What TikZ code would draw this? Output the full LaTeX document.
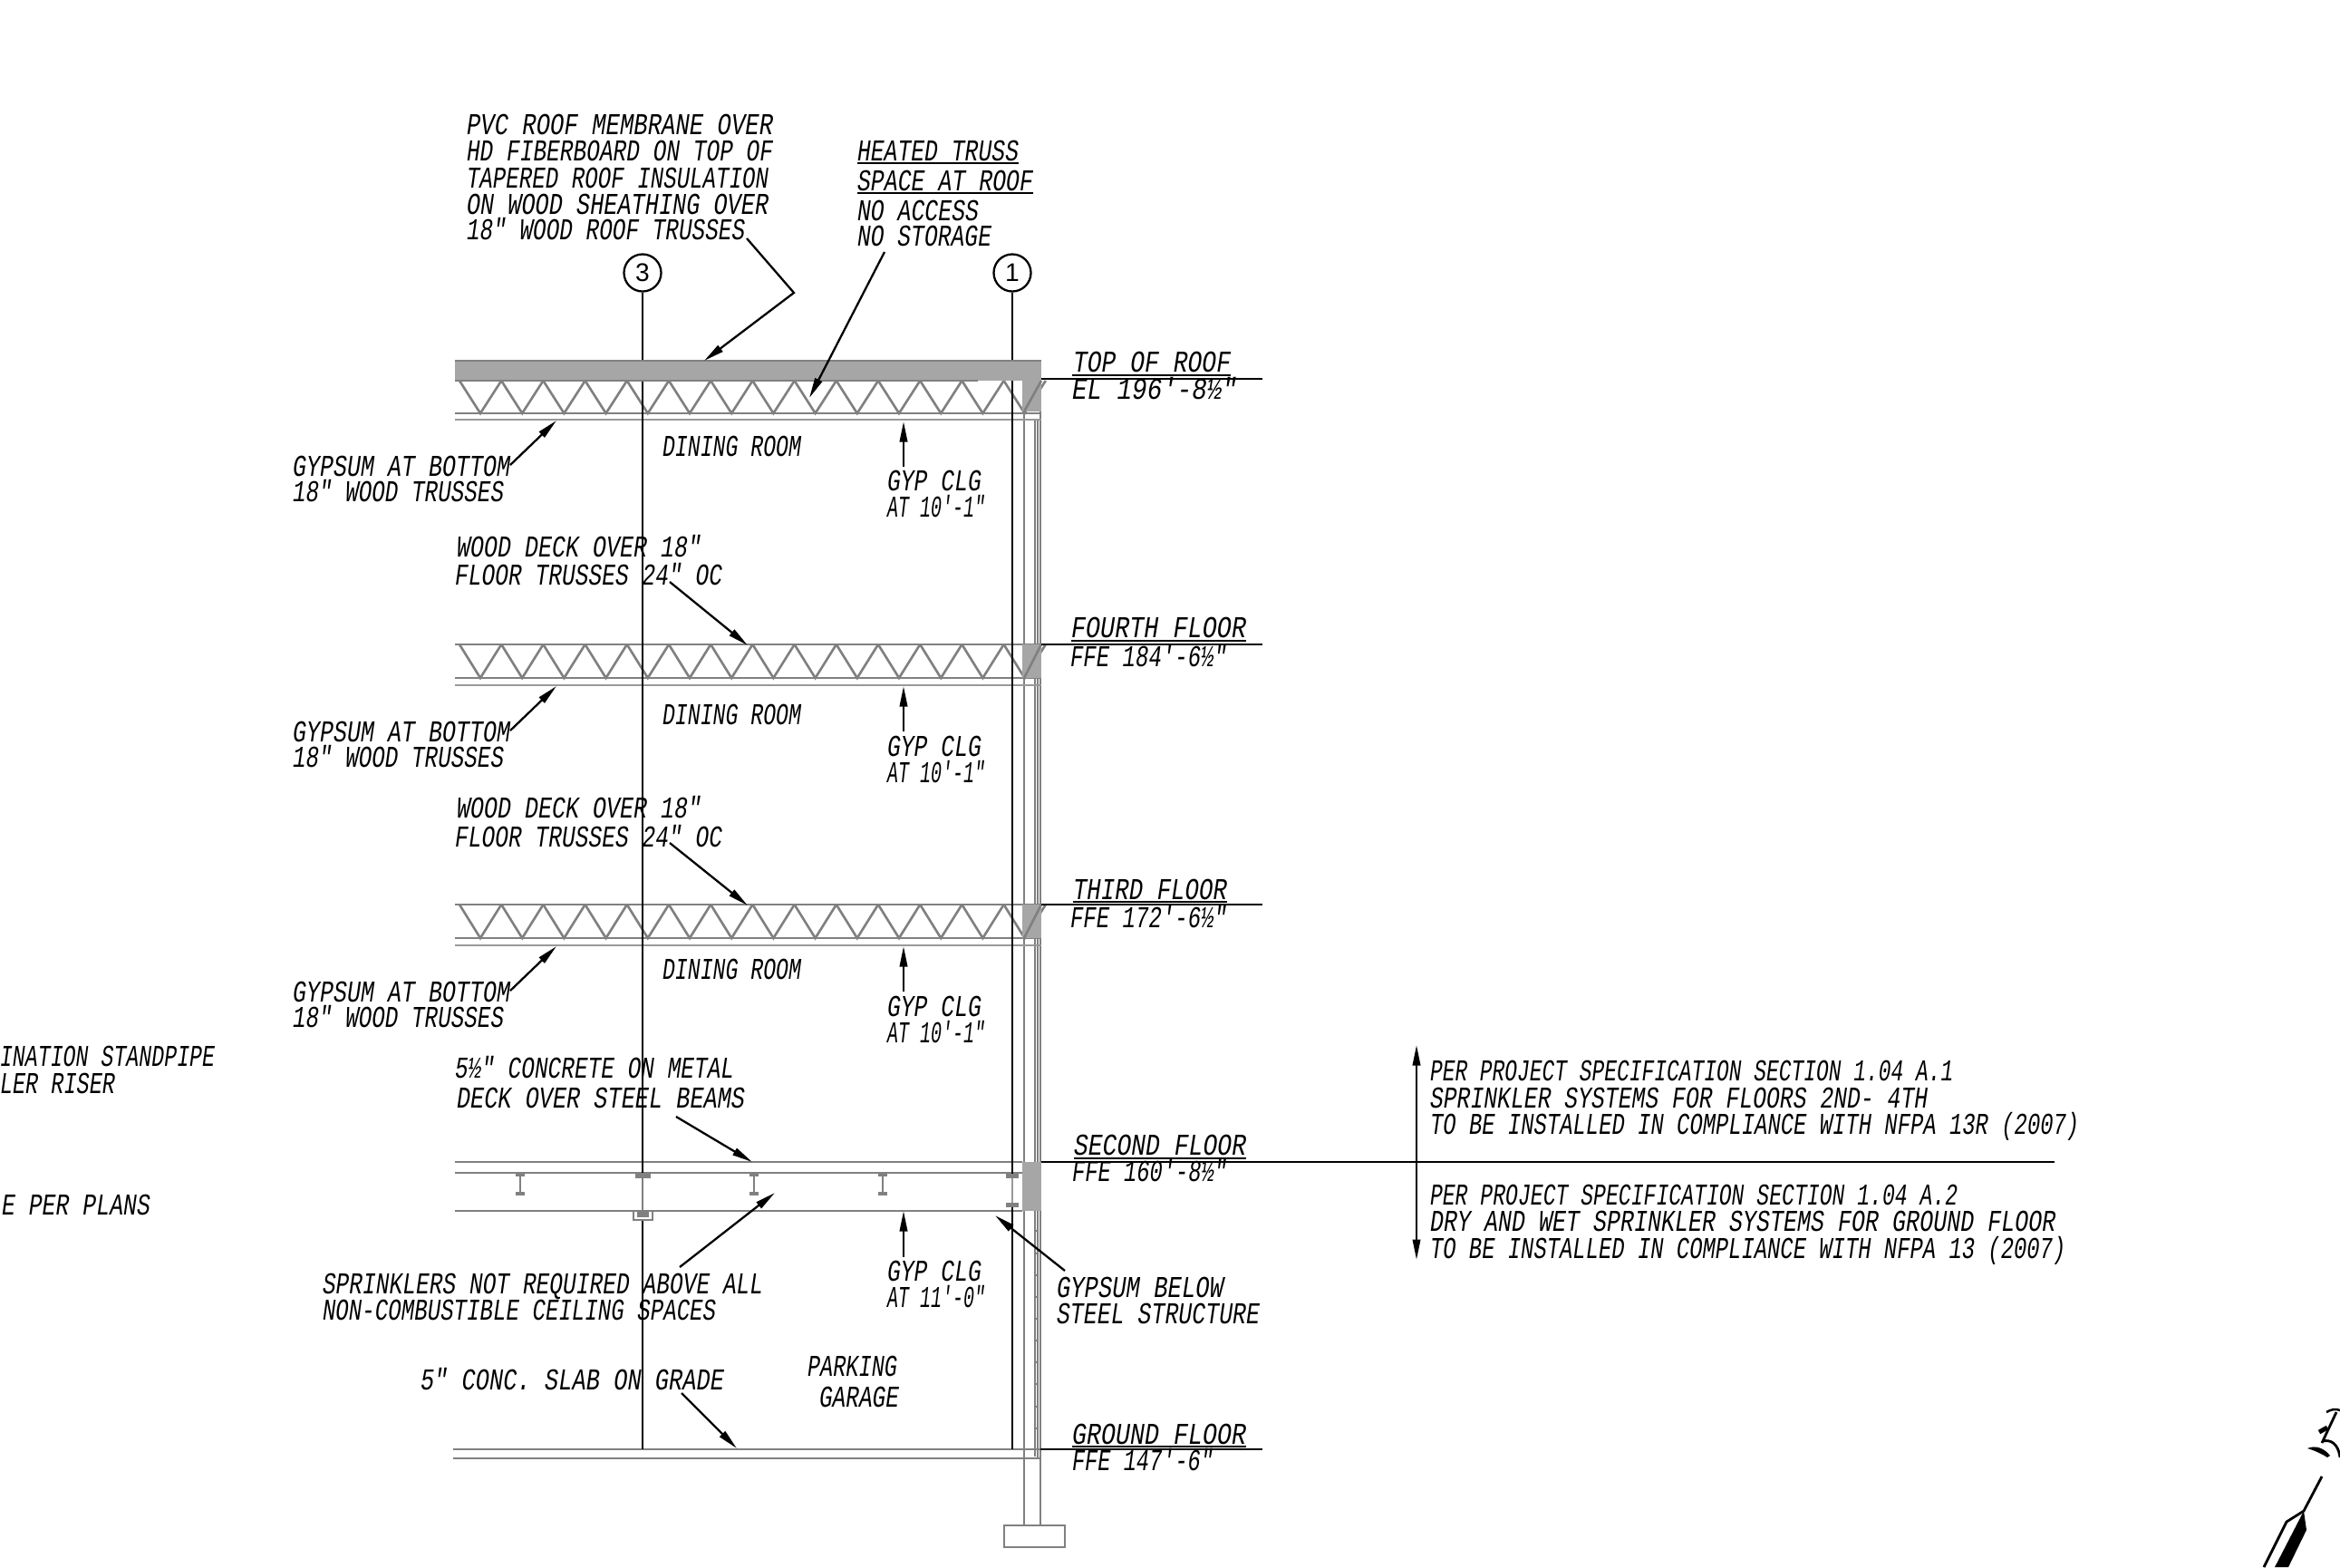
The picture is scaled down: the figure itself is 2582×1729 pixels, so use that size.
\documentclass[tikz,border=0pt]{standalone}
\usepackage{graphicx}
\usepackage{fontspec}
\usetikzlibrary{arrows.meta}
\newfontfamily\cadfont[ItalicFont={Liberation Mono Italic}]{Liberation Mono}
\newfontfamily\circfont{Liberation Sans}
\newsavebox\cadbox
\newcommand\fitw[2]{\sbox\cadbox{#2}\scalebox{\fpeval{(#1)*0.284528pt/\the\wd\cadbox}}[1]{\usebox\cadbox}}
\newcommand\T[5]{\node[cadtext] (#1) at (#2,#3) {\fitw{#4-#2}{#5}};}
\newcommand\leaderline[4]{\coordinate (#1a) at (#2); \coordinate (#1b) at (#3); \draw[leader] (#1a) -- (#1b);}
\tikzset{
  cadtext/.style={anchor=base west,inner sep=0pt,outer sep=0pt,font=\cadfont\itshape\fontsize{9.5pt}{11pt}\selectfont},
  leader/.style={black,line width=0.65pt,-{Triangle[length=6.4pt,width=2.4pt]}},
  level/.style={black,line width=0.7pt},
  grid/.style={black,line width=0.7pt},
  gridmark/.style={draw,black,circle,line width=0.65pt,minimum size=0.41cm,inner sep=0pt,font=\circfont\fontsize{8pt}{9pt}\selectfont},
  struct/.style={draw=structgray,line width=0.7pt},
  fine/.style={draw=lightgray2,line width=0.65pt},
  chord/.style={draw=structgray,line width=0.75pt},
}
\definecolor{structgray}{HTML}{808080}
\definecolor{lightgray2}{HTML}{999999}
\definecolor{fillgray}{HTML}{A6A6A6}
\newcommand\truss[2]{%
  \foreach \k in {0,...,13} {
    \pgfmathsetmacro\xt{507+46.2*\k}
    \pgfmathsetmacro\xb{530+46.2*\k}
    \pgfmathsetmacro\xn{553.2+46.2*\k}
    \draw[chord] (\xt,#1) -- (\xb,#2) -- (\xn,#1);
  }
}
\newcommand\ibeam[1]{%
  \fill[structgray] (#1-5,1295) rectangle (#1+5,1298);
  \fill[structgray] (#1-5,1315) rectangle (#1+5,1319);
  \draw[draw=structgray,line width=0.6pt] (#1,1298) -- (#1,1315);
}
\begin{document}
\begin{tikzpicture}[x=0.01cm,y=-0.01cm]
\useasboundingbox (0,0) rectangle (2582,1729);
% wall
\draw[chord] (1130,456) -- (1130,1683);
\draw[struct,line width=0.55pt] (1142,463) -- (1142,1607);
\draw[struct,line width=0.6pt] (1145,463) -- (1145,1610);
\draw[struct,line width=0.65pt] (1148,420) -- (1148,1683);
\foreach \yy in {1358,1383,1407,1431,1455,1479,1503,1527,1552,1576}
  \draw[struct,line width=0.55pt] (1142,\yy) -- (1145,\yy);
\draw[struct] (1108,1683) rectangle (1175,1707);
% trusses and floors
\truss{420}{456}
\draw[chord] (502,456) -- (1149,456);
\draw[fine] (502,463) -- (1149,463);
\truss{711}{748}
\draw[chord] (502,711) -- (1149,711);
\draw[chord] (502,748) -- (1149,748);
\draw[fine] (502,756) -- (1149,756);
\truss{998}{1035}
\draw[chord] (502,998) -- (1149,998);
\draw[chord] (502,1035) -- (1149,1035);
\draw[fine] (502,1043) -- (1149,1043);
\draw[struct] (502,1282) -- (1128,1282);
\draw[struct] (502,1294) -- (1128,1294);
\draw[struct] (502,1336) -- (1128,1336);
\draw[struct] (500,1599) -- (1148,1599);
\draw[struct] (500,1609) -- (1148,1609);
% grid
\node[gridmark] (g3) at (709,301) {3};
\node[gridmark] (g1) at (1117,301) {1};
\coordinate (g3e) at (709,1599); \coordinate (g1e) at (1117,1599);
\draw[grid] (g3) -- (g3e);
\draw[grid] (g1) -- (g1e);
% roof and wall blocks over the grid
\fill[fillgray] (502,398) rectangle (1149,420);
\draw[draw=structgray,line width=0.4pt] (502,398) -- (1149,398);
\draw[draw=structgray,line width=0.5pt] (502,420) -- (1079,420);
\fill[fillgray] (1128,420) rectangle (1149,454);
\draw[chord] (1130,454) -- (1149,420);
\fill[fillgray] (1128,711) rectangle (1149,748);
\draw[chord] (1130,748) -- (1149,711);
\fill[fillgray] (1128,998) rectangle (1149,1035);
\draw[chord] (1130,1035) -- (1149,998);
\fill[fillgray] (1128,1282) rectangle (1149,1336);
% steel at second floor
\ibeam{574}\ibeam{832}\ibeam{974}
\fill[white] (705,1300) rectangle (713,1336);
\draw[draw=structgray,line width=0.8pt] (709,1300) -- (709,1336);
\fill[structgray] (701,1294) rectangle (717.5,1300);
\fill[white] (699,1336) rectangle (720,1346);
\draw[draw=structgray,line width=0.6pt] (699,1336) rectangle (720,1346);
\fill[structgray] (703,1337) rectangle (716,1343);
\fill[white] (1114,1300) rectangle (1120,1327);
\draw[draw=lightgray2,line width=0.5pt] (1117,1300) -- (1117,1327);
\fill[structgray] (1110,1295) rectangle (1124,1300);
\fill[structgray] (1110,1327) rectangle (1124,1332);
% levels
\coordinate (l1a) at (1149,418); \coordinate (l1b) at (1393,418); \draw[level] (l1a) -- (l1b);
\coordinate (l2a) at (1149,711); \coordinate (l2b) at (1393,711); \draw[level] (l2a) -- (l2b);
\coordinate (l3a) at (1149,998); \coordinate (l3b) at (1393,998); \draw[level] (l3a) -- (l3b);
\coordinate (l4a) at (1149,1282); \coordinate (l4b) at (2267,1282); \draw[level] (l4a) -- (l4b);
\coordinate (l5a) at (1148,1599); \coordinate (l5b) at (1393,1599); \draw[level] (l5a) -- (l5b);
% underlines
\foreach \xa/\xb/\yy in {946/1124/180,946/1140/213,1183/1358/414,1182/1375/707,1184/1354/995,1185/1375/1278,1183/1375/1596}
  \draw[level] (\xa,\yy) -- (\xb,\yy);
% leaders
\coordinate (pa) at (824,263); \coordinate (pb) at (876,323); \coordinate (pc) at (777,398);
\draw[leader] (pa) -- (pb) -- (pc);
\leaderline{h}{976,278}{893,439}{}
\leaderline{ga}{563,513}{614,464}{}
\leaderline{gb}{563,806}{614,757}{}
\leaderline{gc}{563,1093}{614,1044}{}
\leaderline{ca}{997,515}{997,465}{}
\leaderline{cb}{997,807}{997,757}{}
\leaderline{cc}{997,1094}{997,1044}{}
\leaderline{cd}{997,1387}{997,1336}{}
\leaderline{wa}{739,642}{825,712}{}
\leaderline{wb}{739,930}{825,999}{}
\leaderline{cm}{746,1232}{830,1282}{}
\leaderline{sp}{750,1398}{855,1316}{}
\leaderline{gy}{1175,1402}{1098,1341}{}
\leaderline{sl}{752,1537}{813,1598}{}
\leaderline{up}{1563,1282}{1563,1153}{}
\leaderline{dn}{1563,1282}{1563,1390}{}
% text: top
\T{t1}{515}{148}{853}{PVC ROOF MEMBRANE OVER}
\T{t2}{515}{177}{853}{HD FIBERBOARD ON TOP OF}
\T{t3}{515}{207}{848}{TAPERED ROOF INSULATION}
\T{t4}{515}{236}{848}{ON WOOD SHEATHING OVER}
\T{t5}{515}{264}{822}{18" WOOD ROOF TRUSSES}
\T{h1}{946}{177}{1124}{HEATED TRUSS}
\T{h2}{946}{210}{1140}{SPACE AT ROOF}
\T{h3}{946}{243}{1080}{NO ACCESS}
\T{h4}{946}{271}{1094}{NO STORAGE}
% gypsum notes
\T{ga1}{323}{525}{563}{GYPSUM AT BOTTOM}
\T{ga2}{323}{553}{556}{18" WOOD TRUSSES}
\T{gb1}{323}{818}{563}{GYPSUM AT BOTTOM}
\T{gb2}{323}{846}{556}{18" WOOD TRUSSES}
\T{gc1}{323}{1105}{563}{GYPSUM AT BOTTOM}
\T{gc2}{323}{1133}{556}{18" WOOD TRUSSES}
% rooms
\T{d1}{731}{503}{884}{DINING ROOM}
\T{d2}{731}{799}{884}{DINING ROOM}
\T{d3}{731}{1080}{884}{DINING ROOM}
% ceilings
\T{c1}{979}{541}{1083}{GYP CLG}
\T{c2}{979}{570}{1087}{AT 10'-1"}
\T{c3}{979}{834}{1083}{GYP CLG}
\T{c4}{979}{863}{1087}{AT 10'-1"}
\T{c5}{979}{1121}{1083}{GYP CLG}
\T{c6}{979}{1150}{1087}{AT 10'-1"}
\T{c7}{979}{1413}{1083}{GYP CLG}
\T{c8}{979}{1442}{1087}{AT 11'-0"}
% level labels
\T{e1}{1184}{410}{1358}{TOP OF ROOF}
\T{e2}{1183}{440}{1365}{EL 196'-8½"}
\T{e3}{1182}{703}{1375}{FOURTH FLOOR}
\T{e4}{1181}{735}{1354}{FFE 184'-6½"}
\T{e5}{1184}{992}{1354}{THIRD FLOOR}
\T{e6}{1181}{1023}{1354}{FFE 172'-6½"}
\T{e7}{1185}{1274}{1375}{SECOND FLOOR}
\T{e8}{1183}{1303}{1354}{FFE 160'-8½"}
\T{e9}{1183}{1593}{1375}{GROUND FLOOR}
\T{e10}{1183}{1622}{1339}{FFE 147'-6"}
% deck notes
\T{w1}{504}{614}{774}{WOOD DECK OVER 18"}
\T{w2}{502}{645}{797}{FLOOR TRUSSES 24" OC}
\T{w3}{504}{902}{774}{WOOD DECK OVER 18"}
\T{w4}{502}{934}{797}{FLOOR TRUSSES 24" OC}
\T{w5}{502}{1189}{810}{5½" CONCRETE ON METAL}
\T{w6}{504}{1222}{822}{DECK OVER STEEL BEAMS}
\T{s1}{356}{1427}{842}{SPRINKLERS NOT REQUIRED ABOVE ALL}
\T{s2}{356}{1456}{790}{NON-COMBUSTIBLE CEILING SPACES}
\T{s3}{464}{1533}{799}{5" CONC. SLAB ON GRADE}
\T{s4}{891}{1518}{990}{PARKING}
\T{s5}{904}{1552}{992}{GARAGE}
\T{s6}{1166}{1431}{1350}{GYPSUM BELOW}
\T{s7}{1166}{1460}{1390}{STEEL STRUCTURE}
% left cropped
\T{x1}{0}{1176}{237}{INATION STANDPIPE}
\T{x2}{0}{1206}{127}{LER RISER}
\T{x3}{2}{1340}{166}{E PER PLANS}
% specs
\T{r1}{1578}{1192}{2155}{PER PROJECT SPECIFICATION SECTION 1.04 A.1}
\T{r2}{1578}{1222}{2127}{SPRINKLER SYSTEMS FOR FLOORS 2ND- 4TH}
\T{r3}{1578}{1251}{2294}{TO BE INSTALLED IN COMPLIANCE WITH NFPA 13R (2007)}
\T{r4}{1578}{1329}{2160}{PER PROJECT SPECIFICATION SECTION 1.04 A.2}
\T{r5}{1578}{1358}{2268}{DRY AND WET SPRINKLER SYSTEMS FOR GROUND FLOOR}
\T{r6}{1578}{1388}{2279}{TO BE INSTALLED IN COMPLIANCE WITH NFPA 13 (2007)}
% corner figure
\draw[black,line width=0.8pt] (2562,1629) -- (2542,1667) -- (2523,1679) -- (2498,1729);
\fill[black] (2542,1667) -- (2545,1688) -- (2525,1729) -- (2510,1729) -- cycle;
\draw[black,line width=0.8pt] (2578,1558) -- (2562,1592);
\draw[black,line width=0.7pt] (2567,1558) .. controls (2572,1555) and (2577,1554) .. (2582,1556);
\draw[black,line width=1.4pt] (2559,1580) -- (2568,1575);
\fill[black] (2546,1598) .. controls (2555,1594) and (2565,1598) .. (2571,1606) -- (2568,1608) .. controls (2562,1604) and (2553,1600) .. cycle;
\draw[black,line width=0.8pt] (2563,1590) .. controls (2571,1588) and (2580,1592) .. (2582,1608);
\end{tikzpicture}
\end{document}
